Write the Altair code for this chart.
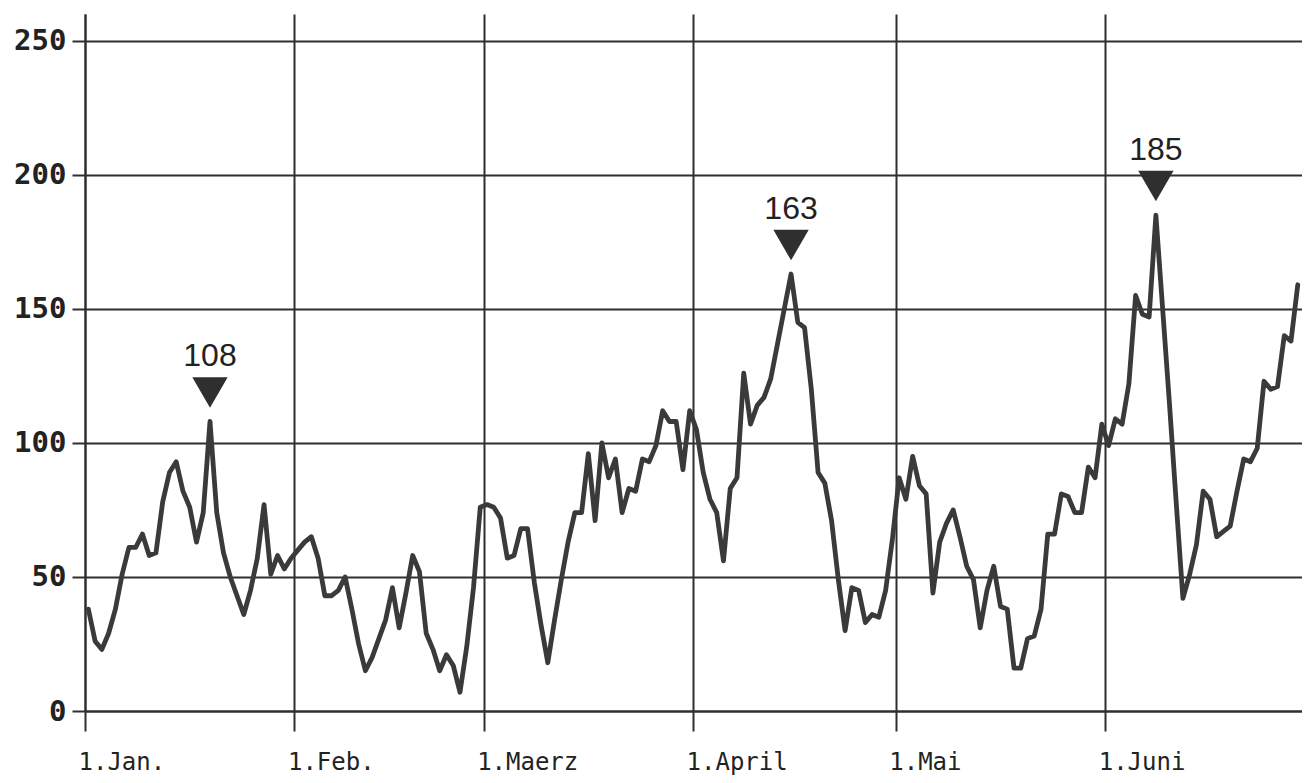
import altair as alt
import pandas as pd

# Tageswerte 1. Jan. bis 29. Juni (ein Wert pro Tag)
values = [
    38, 26, 23, 29, 38, 51, 61, 61, 66, 58,
    59, 78, 89, 93, 82, 76, 63, 74, 108, 74,
    59, 50, 43, 36, 45, 57, 77, 51, 58, 53,
    57, 60, 63, 65, 57, 43, 43, 45, 50, 38,
    25, 15, 20, 27, 34, 46, 31, 44, 58, 52,
    29, 23, 15, 21, 17, 7, 24, 46, 76, 77,
    76, 72, 57, 58, 68, 68, 48, 32, 18, 34,
    49, 63, 74, 74, 96, 71, 100, 87, 94, 74,
    83, 82, 94, 93, 99, 112, 108, 108, 90, 112,
    105, 89, 79, 74, 56, 83, 87, 126, 107, 114,
    117, 124, 137, 150, 163, 145, 143, 120, 89, 85,
    71, 49, 30, 46, 45, 33, 36, 35, 45, 64,
    87, 79, 95, 84, 81, 44, 63, 70, 75, 65,
    54, 49, 31, 45, 54, 39, 38, 16, 16, 27,
    28, 38, 66, 66, 81, 80, 74, 74, 91, 87,
    107, 99, 109, 107, 122, 155, 148, 147, 185, 150,
    115, 78, 42, 51, 62, 82, 79, 65, 67, 69,
    82, 94, 93, 98, 123, 120, 121, 140, 138, 159,
]
year = 1987
peak_days = [18, 104, 158]
peak_labels = ["108", "163", "185"]
month_labels = ["1.Jan.", "1.Feb.", "1.Maerz", "1.April", "1.Mai", "1.Juni"]
month_ticks = [1, 2, 3, 4, 5, 6]
y_ticks = [0, 50, 100, 150, 200, 250]

dates = pd.date_range(f"{year}-01-01", periods=len(values), freq="D") + pd.Timedelta(hours=12)
date_str = list(dates.strftime("%Y-%m-%dT%H:%M:%S"))
df = pd.DataFrame({"datum": date_str, "wert": values})
peaks = pd.DataFrame({
    "datum": [date_str[d] for d in peak_days],
    "wert": [values[d] for d in peak_days],
    "label": peak_labels,
})

label_expr = "[" + ",".join(f"'{m}'" for m in month_labels) + "][month(datum.value)]"

x_enc = alt.X(
    "datum:T",
    title=None,
    scale=alt.Scale(domain=[alt.DateTime(year=year, month=1, date=1),
                            alt.DateTime(year=year, month=6, date=30, hours=3)]),
    axis=alt.Axis(
        values=[alt.DateTime(year=year, month=m, date=1) for m in month_ticks],
        labelExpr=label_expr,
        tickSize=20,
        labelAlign="left",
        labelOffset=-7,
        labelPadding=19,
        labelFont="DejaVu Sans Mono",
        labelFontSize=24,
        labelColor="#222222",
    ),
)
y_enc = alt.Y(
    "wert:Q",
    title=None,
    scale=alt.Scale(domain=[0, 260], nice=False),
    axis=alt.Axis(
        values=y_ticks,
        tickSize=13,
        labelPadding=6,
        labelFont="DejaVu Sans Mono",
        labelFontSize=29,
        labelFontWeight="bold",
        labelColor="#222222",
    ),
)

line = alt.Chart(df).mark_line(
    color="#3a3a3a", strokeWidth=4.8, strokeJoin="round", strokeCap="round"
).encode(x=x_enc, y=y_enc)

tri = alt.Chart(peaks).mark_point(
    shape="triangle-down", filled=True, size=1250, color="#2f2f2f", opacity=1, yOffset=-29
).encode(x=x_enc, y=y_enc)

txt = alt.Chart(peaks).mark_text(
    font="Liberation Sans", fontSize=32, color="#222222", baseline="middle", dy=-65
).encode(x=x_enc, y=y_enc, text="label:N")

chart = alt.layer(line, tri, txt).properties(
    width=1217,
    height=697,
    padding={"left": 77, "top": 6, "right": 0, "bottom": 66},
    autosize=alt.AutoSizeParams(type="none"),
    background="#ffffff",
).configure_view(stroke=None).configure_axis(
    grid=True,
    gridColor="#2e2e2e",
    gridWidth=2,
    gridOpacity=1,
    domainColor="#2e2e2e",
    domainWidth=2,
    tickColor="#2e2e2e",
    tickWidth=2,
)

chart.save("out.html", embed_options={"renderer": "svg", "actions": False})
